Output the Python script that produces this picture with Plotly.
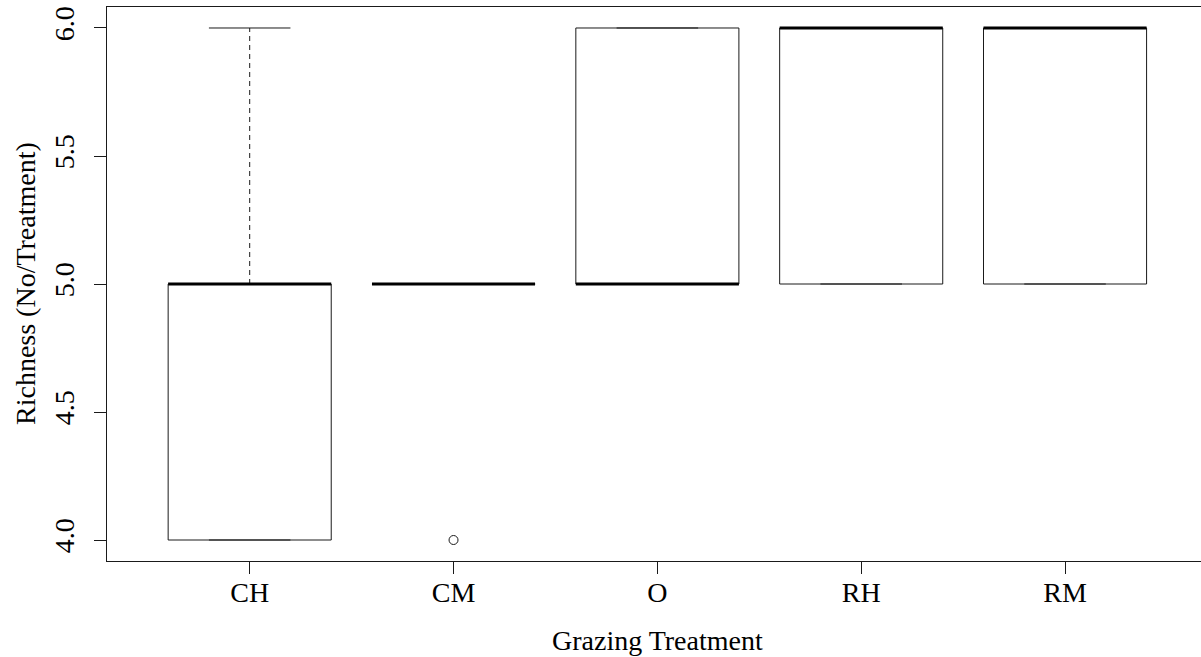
import plotly.graph_objects as go

categories = ["CH", "CM", "O", "RH", "RM"]
lower_whisker = [4, 5, 5, 5, 5]
q1 = [4, 5, 5, 5, 5]
median = [5, 5, 5, 6, 6]
q3 = [5, 5, 6, 6, 6]
upper_whisker = [6, 5, 6, 6, 6]
outlier_cat = ["CM"]
outlier_val = [4]

y_ticks = [4.0, 4.5, 5.0, 5.5, 6.0]
y_ticktext = ["4.0", "4.5", "5.0", "5.5", "6.0"]

FONT = "Liberation Serif"
LC = "#1a1a1a"
BOXW = 0.4
STAPLE = 0.2

pos = {c: i + 1 for i, c in enumerate(categories)}

fig = go.Figure()

for i, c in enumerate(categories):
    x = pos[c]
    # whiskers (dashed)
    fig.add_trace(go.Scatter(
        x=[x, x, None, x, x],
        y=[q1[i], lower_whisker[i], None, q3[i], upper_whisker[i]],
        mode="lines", line=dict(color=LC, width=1, dash="5px,4px"),
        showlegend=False, hoverinfo="skip"))
    # staples
    fig.add_trace(go.Scatter(
        x=[x - STAPLE, x + STAPLE, None, x - STAPLE, x + STAPLE],
        y=[lower_whisker[i], lower_whisker[i], None, upper_whisker[i], upper_whisker[i]],
        mode="lines", line=dict(color=LC, width=1),
        showlegend=False, hoverinfo="skip"))
    # box
    fig.add_trace(go.Scatter(
        x=[x - BOXW, x + BOXW, x + BOXW, x - BOXW, x - BOXW],
        y=[q1[i], q1[i], q3[i], q3[i], q1[i]],
        mode="lines", line=dict(color=LC, width=1),
        showlegend=False, hoverinfo="skip"))
    # median
    fig.add_trace(go.Scatter(
        x=[x - BOXW, x + BOXW],
        y=[median[i], median[i]],
        mode="lines", line=dict(color="black", width=3.2),
        showlegend=False, hoverinfo="skip"))

fig.add_trace(go.Scatter(
    x=[pos[c] for c in outlier_cat], y=outlier_val,
    mode="markers",
    marker=dict(symbol="circle-open", size=9, color=LC, line=dict(width=1, color=LC)),
    showlegend=False, hoverinfo="skip"))

fig.update_layout(
    width=1201, height=657,
    margin=dict(l=107, r=0, t=7, b=96),
    paper_bgcolor="white", plot_bgcolor="white",
    font=dict(family=FONT, size=28, color="black"),
    xaxis=dict(
        range=[0.3, 5.667], tickmode="array",
        tickvals=[pos[c] for c in categories], ticktext=categories,
        showgrid=False, zeroline=False,
        showline=True, linecolor=LC, linewidth=1, mirror=True,
        ticks="outside", ticklen=12, tickcolor=LC, tickwidth=1,
        ticklabelstandoff=-6,
        tickfont=dict(family=FONT, size=28, color="black"),
    ),
    yaxis=dict(
        range=[3.918, 6.082], tickmode="array",
        tickvals=y_ticks, ticktext=y_ticktext,
        showgrid=False, zeroline=False,
        showline=True, linecolor=LC, linewidth=1,
        ticks="outside", ticklen=12, tickcolor=LC, tickwidth=1,
        tickangle=-90, ticklabelstandoff=9,
        tickfont=dict(family=FONT, size=28, color="black"),
    ),
    annotations=[
        dict(text="Grazing Treatment", xref="x", yref="paper", x=3, y=0,
             yshift=-79, xanchor="center", yanchor="middle", showarrow=False,
             font=dict(family=FONT, size=28, color="black")),
        dict(text="Richness (No/Treatment)", xref="paper", yref="paper",
             x=0, y=0.5, xshift=-82, textangle=-90, xanchor="center", yanchor="middle",
             showarrow=False, font=dict(family=FONT, size=28, color="black")),
    ],
)

fig.write_html("out.html", config={"displayModeBar": False},
               post_script="document.body.style.margin='0';")
